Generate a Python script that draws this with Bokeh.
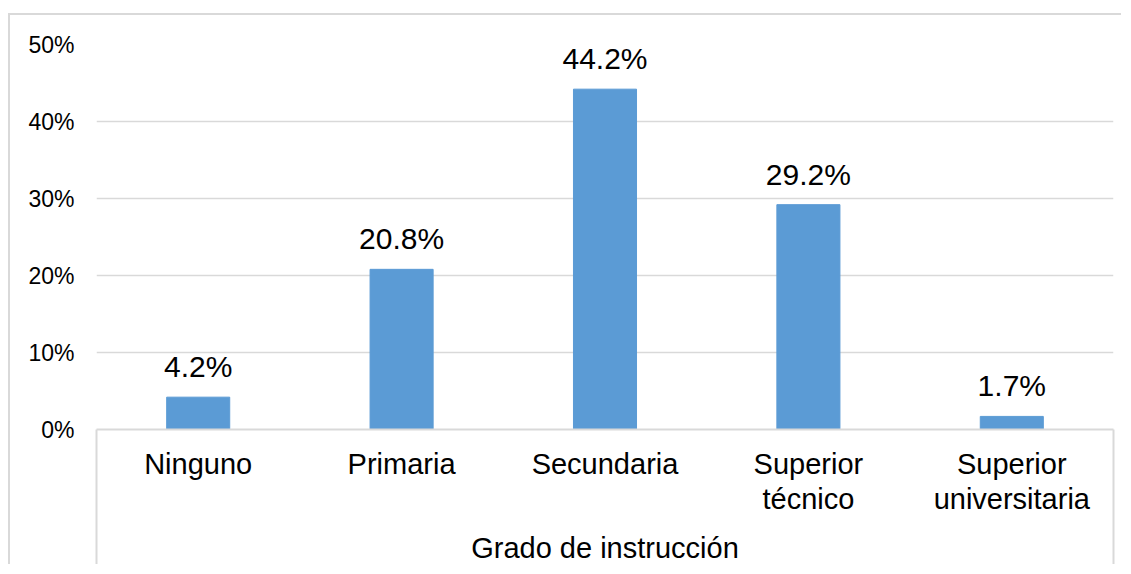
from bokeh.plotting import figure
from bokeh.models import ColumnDataSource, Range1d, FixedTicker, PrintfTickFormatter, LabelSet
from bokeh.core.properties import value
from bokeh.embed import file_html
from bokeh.resources import INLINE

categories = ["Ninguno", "Primaria", "Secundaria", "Superior\ntécnico", "Superior\nuniversitaria"]
values = [4.2, 20.8, 44.2, 29.2, 1.7]
y_ticks = [0, 10, 20, 30, 40, 50]
x_title = "Grado de instrucción"

FONT = "Liberation Sans"
GRID = "#d9d9d9"
BAR = "#5B9BD5"
BOX_DROP = 136  # length of the category-box side lines below the axis

xs = [i + 0.5 for i in range(len(categories))]
src = ColumnDataSource(dict(x=xs, top=values, label=[f"{v:.1f}%" for v in values]))

p = figure(width=1113, height=551, output_backend="svg", toolbar_location=None,
           x_range=Range1d(0, len(categories)), y_range=Range1d(0, 50),
           min_border_left=86, min_border_right=10, min_border_top=29, min_border_bottom=136)
p.outline_line_color = None
p.background_fill_color = "white"
p.border_fill_color = "white"
p.styles = {"border-left": f"2px solid {GRID}", "border-top": f"2px solid {GRID}",
            "margin-top": "13px", "margin-left": "8px"}

p.vbar(x="x", top="top", width=0.31, bottom=0, source=src, fill_color=BAR, line_color=BAR)

labels = LabelSet(x="x", y="top", text="label", source=src, text_align="center",
                  text_baseline="alphabetic", y_offset=20, text_font=value(FONT),
                  text_font_size="30px", text_color="#000000")
p.add_layout(labels)

# y axis
p.yaxis.ticker = FixedTicker(ticks=y_ticks)
p.yaxis.formatter = PrintfTickFormatter(format="%d%%")
p.yaxis.axis_line_color = None
p.yaxis.major_tick_line_color = None
p.yaxis.minor_tick_line_color = None
p.yaxis.major_tick_out = 0
p.yaxis.major_label_standoff = 22
p.yaxis.major_label_text_font = FONT
p.yaxis.major_label_text_font_size = "23px"
p.yaxis.major_label_text_color = "#000000"

p.ygrid.grid_line_color = GRID
p.ygrid.grid_line_width = 1.5
p.xgrid.grid_line_color = None

# x axis: labels at category centres, box edges via minor ticks at boundaries
p.xaxis.ticker = FixedTicker(ticks=xs, minor_ticks=[0, len(categories)])
p.xaxis.major_label_overrides = {x: c for x, c in zip(xs, categories)}
p.xaxis.major_tick_line_color = None
p.xaxis.major_tick_out = 0
p.xaxis.major_tick_in = 0
p.xaxis.minor_tick_in = 0
p.xaxis.minor_tick_out = BOX_DROP
p.xaxis.minor_tick_line_color = GRID
p.xaxis.minor_tick_line_width = 2
p.xaxis.axis_line_color = GRID
p.xaxis.axis_line_width = 2
p.xaxis.major_label_standoff = 18 - BOX_DROP
p.xaxis.major_label_text_font = FONT
p.xaxis.major_label_text_font_size = "29px"
p.xaxis.major_label_text_line_height = 1.1
p.xaxis.major_label_text_color = "#000000"
p.xaxis.axis_label = x_title
p.xaxis.axis_label_text_font = FONT
p.xaxis.axis_label_text_font_size = "29px"
p.xaxis.axis_label_text_font_style = "normal"
p.xaxis.axis_label_text_color = "#000000"
p.xaxis.axis_label_standoff = 14

open("out.html", "w").write(file_html(p, INLINE))
